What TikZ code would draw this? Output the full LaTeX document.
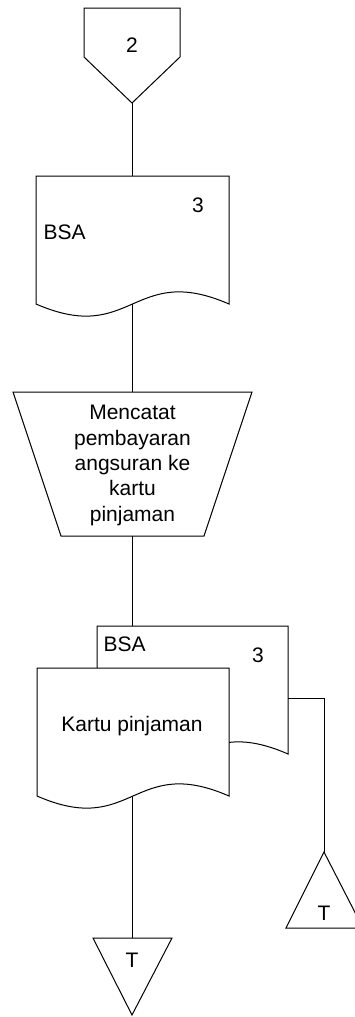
\documentclass[tikz,border=0pt]{standalone}
\usepackage{fontspec}
\setmainfont{Liberation Sans}
\begin{document}
\begin{tikzpicture}[x=1pt,y=-1pt,line width=1pt,
  shp/.style={draw=black,fill=white,line join=miter},
  lbl/.style={font=\fontsize{21}{25.3}\selectfont,inner sep=0pt},
  conn/.style={draw=black}]
\useasboundingbox (0,0) rectangle (354,1017);
\fill[white] (0,0) rectangle (354,1017);

% off-page connector 2
\draw[shp] (84,8) -- (180,8) -- (180,57) -- (132,103) -- (84,57) -- cycle;
\coordinate (opcbot) at (132,103);
\node[lbl,anchor=base] (opctxt) at (132,52.5) {2};

% document BSA 3
\draw[shp] (36,304) -- (36,176) -- (229,176) -- (229,304)
  .. controls (132.5,262) and (132.5,346) .. (36,304) -- cycle;
\coordinate (doctop) at (132,176);
\coordinate (docbot) at (132,304);
\node[lbl,anchor=base] (docnum) at (198,212.7) {3};
\node[lbl,anchor=base west] (docbsa) at (43,239) {BSA};

% manual operation
\draw[shp] (13,392) -- (252,392) -- (204,536) -- (61,536) -- cycle;
\coordinate (mantop) at (132,392);
\coordinate (manbot) at (132,536);
\node[lbl,align=center] (mantxt) at (132.5,465.5) {Mencatat\\pembayaran\\angsuran ke\\kartu\\pinjaman};

% back document BSA 3
\draw[shp] (97,754) -- (97,626) -- (288,626) -- (288,754)
  .. controls (192.5,712) and (192.5,796) .. (97,754) -- cycle;
\coordinate (backtop) at (132,626);
\coordinate (backright) at (288,698);
\node[lbl,anchor=base west] (backbsa) at (103,651.7) {BSA};
\node[lbl,anchor=base] (backnum) at (258,662.7) {3};

% front document Kartu pinjaman
\draw[shp] (37,796) -- (37,668) -- (229,668) -- (229,796)
  .. controls (133,754) and (133,838) .. (37,796) -- cycle;
\coordinate (frontbot) at (132,796);
\node[lbl,anchor=base] (fronttxt) at (132,731) {Kartu pinjaman};

% terminator triangles
\draw[shp] (93,938) -- (172,938) -- (132,1015) -- cycle;
\coordinate (t1top) at (132,938);
\node[lbl,anchor=base] (t1txt) at (132,967.7) {T};

\draw[shp] (324,852) -- (363,928) -- (286,928) -- cycle;
\coordinate (t2top) at (324,852);
\coordinate (bend) at (324,698);
\node[lbl,anchor=base] (t2txt) at (324,920) {T};

% connectors
\draw[conn] (opcbot) -- (doctop);
\draw[conn] (docbot) -- (mantop);
\draw[conn] (manbot) -- (backtop);
\draw[conn] (frontbot) -- (t1top);
\draw[conn] (backright) -- (bend) -- (t2top);
\end{tikzpicture}
\end{document}
